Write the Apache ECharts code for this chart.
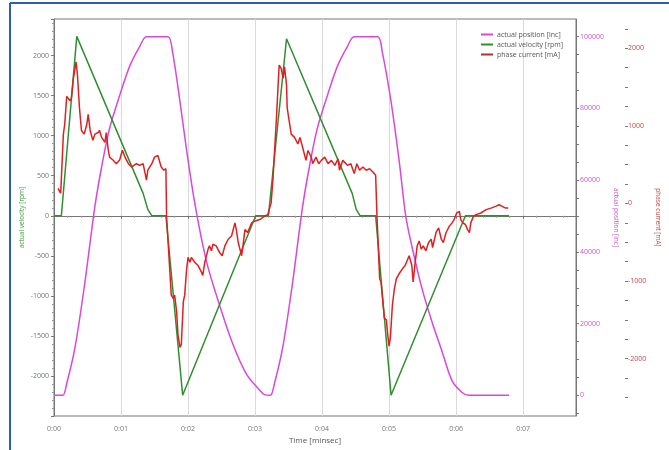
<!DOCTYPE html>
<html>
<head>
<meta charset="utf-8">
<script src="https://cdn.jsdelivr.net/npm/echarts@6/dist/echarts.min.js"></script>
<style>
html,body{margin:0;padding:0;background:#fff;}
#chart{width:669px;height:450px;}
</style>
</head>
<body>
<div id="chart"></div>
<script>
// ---- tick labels ----
var xTickLabels = ['0:00','0:01','0:02','0:03','0:04','0:05','0:06','0:07'];
var posTickLabels = [0, 20000, 40000, 60000, 80000, 100000];
var posTicks = [-5000,0,5000,10000,15000,20000,25000,30000,35000,40000,45000,50000,55000,60000,65000,70000,75000,80000,85000,90000,95000,100000];
var curTickLabels = [-2000, -1000, 0, 1000, 2000];
var curTicks = [-2500,-2250,-2000,-1750,-1500,-1250,-1000,-750,-500,-250,0,250,500,750,1000,1250,1500,1750,2000,2250];

// ---- series names ----
var seriesNames = ['actual position [inc]', 'actual velocity [rpm]', 'phase current [mA]'];

// ---- actual position [inc] : [time, value] ----
var positionData = [
  [0,0],[0.0013,0],[0.0019,3300],[0.0031,13000],[0.0045,30000],[0.0061,52600],[0.0071,63600],
  [0.0083,74500],[0.0098,83600],[0.0113,91800],[0.0128,97300],[0.0138,100000],[0.0170,100000],
  [0.0177,95600],[0.0188,81900],[0.0198,68200],[0.0211,52600],[0.0228,37000],[0.0247,25200],
  [0.0267,14250],[0.0287,6000],[0.0307,1400],[0.0314,200],[0.0323,0],
  [0.0329,3300],[0.0341,13000],[0.0355,30000],[0.0371,52600],[0.0381,63600],[0.0393,74500],
  [0.0408,83600],[0.0423,91800],[0.0438,97300],[0.0448,100000],[0.0483,100000],
  [0.0490,95600],[0.0503,81900],[0.0515,65500],[0.0525,49900],[0.0534,41650],[0.0549,29900],
  [0.0564,20550],[0.0579,12300],[0.0594,4100],[0.0609,800],[0.0619,0],[0.0679,0]
];

// ---- actual velocity [rpm] ----
var velocityData = [
  [0,0],[0.0011,0],[0.0034,2240],[0.0133,280],[0.0140,80],[0.0146,0],[0.0167,0],
  [0.0192,-2240],[0.0301,0],[0.0320,0],[0.0347,2210],[0.0445,280],[0.0451,80],[0.0457,0],
  [0.0480,0],[0.0503,-2240],[0.0614,0],[0.0679,0]
];

// ---- phase current [mA] ----
var currentData = [
  [0.0006,194],[0.0010,131],[0.0014,893],[0.0016,1020],[0.0019,1380],[0.0024,1321],[0.0026,1359],
  [0.0029,1613],[0.0033,1825],[0.0035,1655],[0.0038,1232],[0.0041,940],[0.0045,893],[0.0049,1020],
  [0.0051,1147],[0.0054,940],[0.0058,813],[0.0061,893],[0.0066,914],[0.0068,940],[0.0071,851],
  [0.0076,787],[0.0078,914],[0.0081,686],[0.0083,597],[0.0088,559],[0.0093,512],[0.0098,559],
  [0.0102,686],[0.0106,597],[0.0111,512],[0.0116,470],[0.0123,512],[0.0128,491],[0.0133,512],
  [0.0138,301],[0.0140,428],[0.0146,512],[0.0150,597],[0.0155,618],[0.0160,470],[0.0164,428],
  [0.0167,448],[0.0168,-165],[0.0175,-1181],[0.0178,-1223],[0.0180,-1181],[0.0183,-1393],
  [0.0185,-1689],[0.0188,-1854],[0.0190,-1816],[0.0193,-1266],[0.0195,-1181],[0.0198,-842],
  [0.0200,-695],[0.0203,-758],[0.0205,-695],[0.0210,-758],[0.0215,-800],[0.0220,-885],
  [0.0222,-927],[0.0225,-758],[0.0230,-588],[0.0232,-546],[0.0235,-610],[0.0237,-525],
  [0.0242,-546],[0.0247,-631],[0.0251,-673],[0.0255,-546],[0.0260,-461],[0.0265,-419],
  [0.0270,-250],[0.0272,-334],[0.0275,-504],[0.0277,-504],[0.0280,-673],[0.0282,-546],
  [0.0285,-334],[0.0289,-376],[0.0295,-250],[0.0299,-229],[0.0307,-207],[0.0314,-165],
  [0.0319,-144],[0.0324,4],[0.0327,343],[0.0332,1105],[0.0336,1782],[0.0339,1740],[0.0342,1613],
  [0.0344,1761],[0.0347,1528],[0.0348,1232],[0.0350,1257],[0.0354,893],[0.0359,851],[0.0364,766],
  [0.0367,851],[0.0371,724],[0.0376,555],[0.0379,682],[0.0384,597],[0.0386,512],[0.0391,597],
  [0.0395,512],[0.0399,555],[0.0404,597],[0.0409,512],[0.0414,555],[0.0419,491],[0.0424,575],
  [0.0426,428],[0.0431,555],[0.0438,491],[0.0443,512],[0.0448,385],[0.0452,512],[0.0456,428],
  [0.0461,470],[0.0466,428],[0.0471,448],[0.0476,406],[0.0480,364],[0.0482,-165],[0.0486,-969],
  [0.0488,-1012],[0.0493,-1477],[0.0496,-1499],[0.0498,-1689],[0.0500,-1838],[0.0502,-1731],
  [0.0505,-1308],[0.0508,-1096],[0.0511,-969],[0.0515,-906],[0.0520,-842],[0.0524,-800],
  [0.0528,-715],[0.0530,-673],[0.0534,-800],[0.0536,-1012],[0.0539,-758],[0.0542,-546],
  [0.0545,-483],[0.0548,-588],[0.0551,-546],[0.0555,-610],[0.0559,-504],[0.0563,-461],
  [0.0565,-568],[0.0570,-377],[0.0574,-314],[0.0578,-461],[0.0581,-504],[0.0585,-377],
  [0.0590,-292],[0.0594,-250],[0.0597,-207],[0.0601,-123],[0.0605,-102],[0.0607,-207],
  [0.0610,-250],[0.0614,-271],[0.0617,-334],[0.0620,-377],[0.0622,-250],[0.0626,-165],
  [0.0630,-144],[0.0637,-123],[0.0645,-80],[0.0652,-60],[0.0659,-38],[0.0664,-17],
  [0.0669,-38],[0.0674,-60],[0.0678,-60]
];

var colors = ['#d948d9', '#2f8f2f', '#e02020'];
var FONT = 'Open Sans';
function plainNum(v) { return String(Math.round(v)); }

var chart = echarts.init(document.getElementById('chart'), null, {renderer: 'canvas'});
chart.setOption({
  backgroundColor: '#ffffff',
  animation: false,
  textStyle: {fontFamily: FONT},
  graphic: [
    {type: 'line', shape: {x1: 10, y1: 3, x2: 669, y2: 3}, style: {stroke: '#2f5fb3', lineWidth: 2}, silent: true},
    {type: 'line', shape: {x1: 10, y1: 3, x2: 10, y2: 450}, style: {stroke: '#2f5fb3', lineWidth: 2}, silent: true}
  ],
  legend: {
    orient: 'vertical',
    left: 481, top: 30,
    padding: 0,
    itemGap: 1,
    itemWidth: 12, itemHeight: 2,
    icon: 'rect',
    textStyle: {fontSize: 7, color: '#555', fontFamily: FONT, lineHeight: 9, padding: [0,0,0,-1]},
    data: seriesNames
  },
  grid: {left: 54, right: 92, top: 19, bottom: 27, show: true, borderColor: '#777', borderWidth: 1, containLabel: false},
  xAxis: {
    type: 'value', min: 0, max: 0.0779, interval: 0.01,
    name: 'Time [minsec]', nameLocation: 'middle', nameGap: 21, nameMoveOverlap: false,
    nameTextStyle: {fontSize: 8, color: '#555', fontFamily: FONT},
    axisLine: {show: true, lineStyle: {color: '#777'}},
    axisTick: {show: true, length: 3, lineStyle: {color: '#777'}},
    minorTick: {show: true, splitNumber: 5, length: 2, lineStyle: {color: '#999'}},
    axisLabel: {fontSize: 7, color: '#777', margin: 9, showMaxLabel: false,
      formatter: function (v) {
        var i = Math.round(v * 100);
        if (Math.abs(v - i / 100) > 1e-7) return '';
        return xTickLabels[i] || '';
      }},
    splitLine: {show: true, lineStyle: {color: '#dadada', width: 1}}
  },
  yAxis: [
    {
      type: 'value', position: 'left', min: -2500, max: 2457, interval: 500,
      name: 'actual velocity [rpm]', nameLocation: 'middle', nameGap: 28, nameRotate: 90, nameMoveOverlap: false,
      nameTextStyle: {fontSize: 6.5, color: '#3a9a3a', fontFamily: FONT},
      axisLine: {show: true, lineStyle: {color: '#777'}},
      axisTick: {show: true, length: 3, lineStyle: {color: '#777'}},
      minorTick: {show: true, splitNumber: 5, length: 2, lineStyle: {color: '#999'}},
      axisLabel: {fontSize: 7, color: '#6a7a6a', margin: 5, showMaxLabel: false, showMinLabel: false, formatter: plainNum},
      splitLine: {show: false}
    },
    {
      type: 'value', position: 'right', min: -5753, max: 104932,
      name: 'actual position [inc]', nameLocation: 'middle', nameGap: 36, nameRotate: -90, nameMoveOverlap: false,
      nameTextStyle: {fontSize: 6.5, color: '#cc55cc', fontFamily: FONT},
      axisLine: {show: true, lineStyle: {color: '#777'}},
      axisTick: {show: true, length: 3, lineStyle: {color: '#777'}, customValues: posTicks},
      axisLabel: {fontSize: 7, color: '#cc55cc', margin: 4, customValues: posTickLabels, formatter: plainNum},
      splitLine: {show: false}
    },
    {
      type: 'value', position: 'right', offset: 49, min: -2738, max: 2376,
      name: 'phase current [mA]', nameLocation: 'middle', nameGap: 29, nameRotate: -90, nameMoveOverlap: false,
      nameTextStyle: {fontSize: 6.5, color: '#cc4444', fontFamily: FONT},
      axisLine: {show: false},
      axisTick: {show: true, length: 3, lineStyle: {color: '#777'}, customValues: curTicks},
      axisLabel: {fontSize: 7, color: '#cc4444', margin: 3, customValues: curTickLabels, formatter: plainNum},
      splitLine: {show: false}
    }
  ],
  series: [
    {name: seriesNames[0], type: 'line', yAxisIndex: 1, data: positionData, smooth: 0.3, symbol: 'none',
     lineStyle: {color: colors[0], width: 1.5}, itemStyle: {color: colors[0]}},
    {name: seriesNames[1], type: 'line', yAxisIndex: 0, data: velocityData, symbol: 'none',
     lineStyle: {color: colors[1], width: 1.5}, itemStyle: {color: colors[1]}},
    {name: seriesNames[2], type: 'line', yAxisIndex: 2, data: currentData, symbol: 'none',
     lineStyle: {color: colors[2], width: 1.5}, itemStyle: {color: '#b03030'}}
  ]
});
</script>
</body>
</html>
